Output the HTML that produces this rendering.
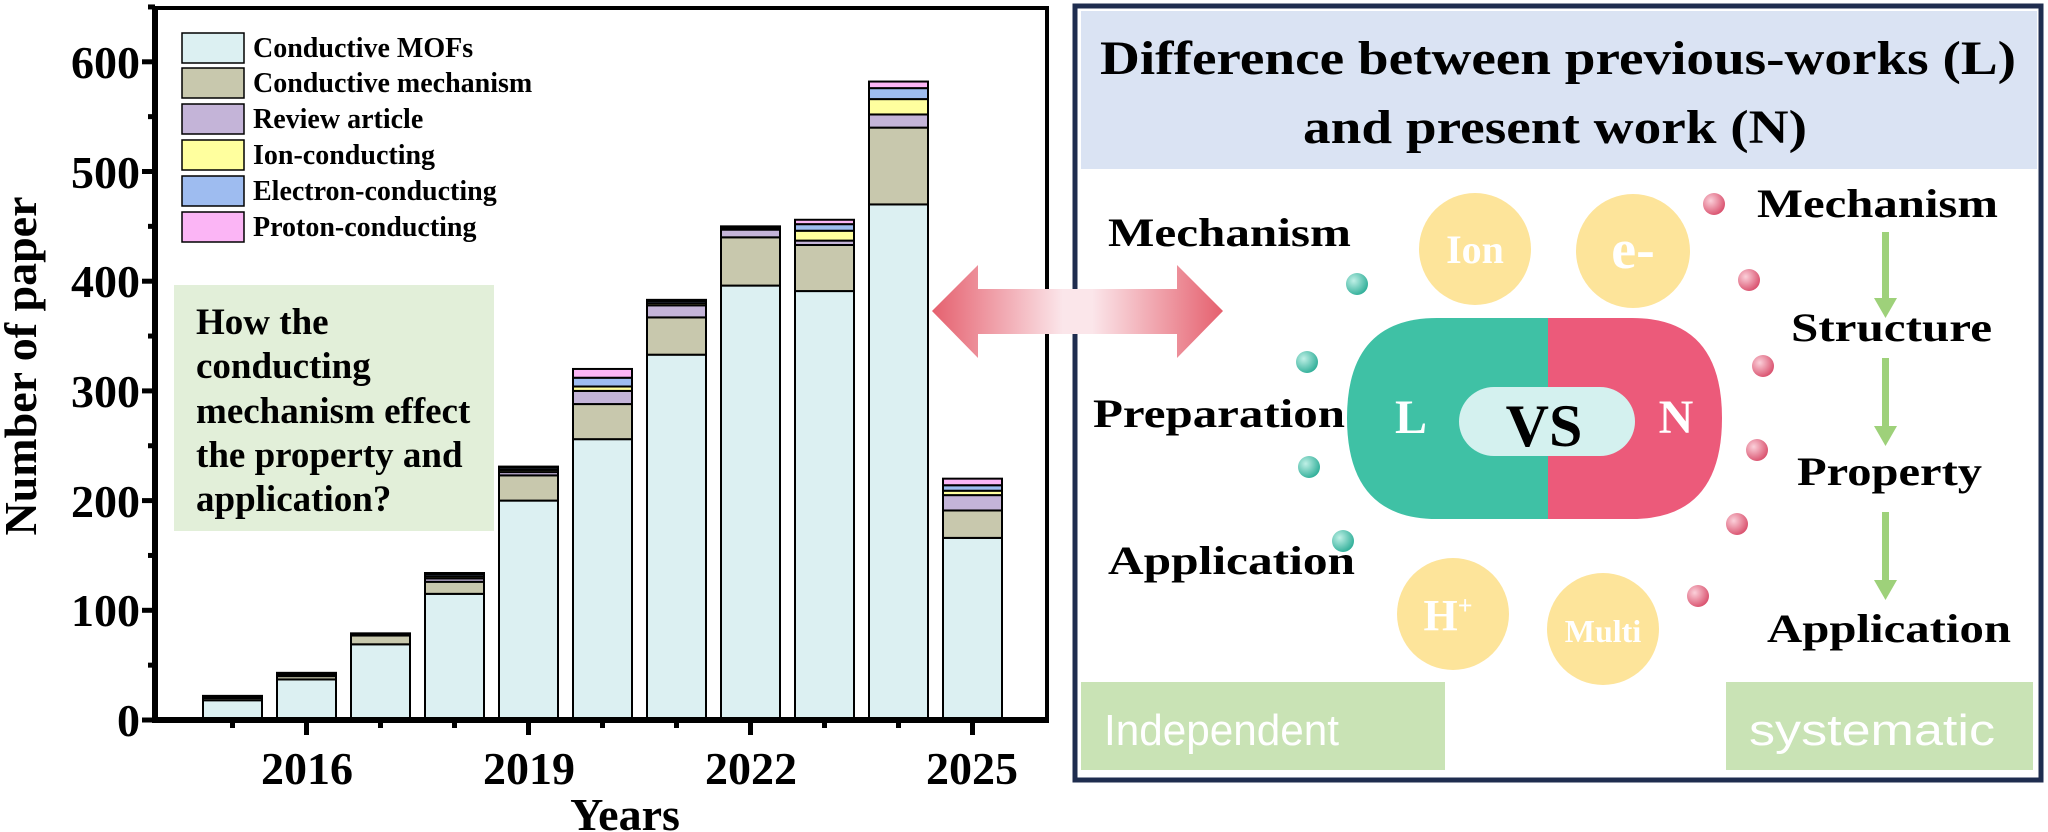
<!DOCTYPE html>
<html><head><meta charset="utf-8"><style>
html,body{margin:0;padding:0;background:#fff;}
svg{display:block;}
.s{font-family:"Liberation Serif",serif;font-weight:bold;}
</style></head><body>
<svg id="svg" width="2048" height="832" viewBox="0 0 2048 832" xmlns="http://www.w3.org/2000/svg">
<defs>
<linearGradient id="ag" x1="0" x2="1" y1="0" y2="0">
<stop offset="0" stop-color="#e5606e"/><stop offset="0.45" stop-color="#fbe6ea"/><stop offset="0.55" stop-color="#fbe6ea"/><stop offset="1" stop-color="#e5606e"/>
</linearGradient>
<radialGradient id="tg" cx="0.35" cy="0.35" r="0.7"><stop offset="0" stop-color="#bff0e6"/><stop offset="1" stop-color="#2fae98"/></radialGradient>
<radialGradient id="pg" cx="0.35" cy="0.35" r="0.7"><stop offset="0" stop-color="#fbd0da"/><stop offset="1" stop-color="#d9506d"/></radialGradient>
</defs>
<!-- chart -->
<g id="bars"></g>
<rect x="155" y="8" width="892" height="712" fill="none" stroke="#000" stroke-width="4"/>
<line x1="155" y1="6" x2="155" y2="723" stroke="#000" stroke-width="6"/>
<line x1="152" y1="720" x2="1049" y2="720" stroke="#000" stroke-width="6"/>
<g id="ticks" stroke="#000" stroke-width="5"></g>
<g class="s" font-size="46" text-anchor="end">
<text x="140" y="736">0</text><text x="140" y="626">100</text><text x="140" y="517">200</text><text x="140" y="407">300</text><text x="140" y="297">400</text><text x="140" y="188">500</text><text x="140" y="78">600</text>
</g>
<g class="s" font-size="46" text-anchor="middle">
<text x="307" y="784">2016</text><text x="529" y="784">2019</text><text x="751" y="784">2022</text><text x="972" y="784">2025</text>
<text x="625" y="830">Years</text>
<text transform="translate(36,366) rotate(-90)">Number of paper</text>
</g>
<!-- legend -->
<g class="s" stroke="#000" stroke-width="1.5">
<rect x="182" y="33" width="62" height="30" fill="#dcf0f2"/>
<rect x="182" y="68" width="62" height="30" fill="#c8c8ad"/>
<rect x="182" y="104" width="62" height="30" fill="#c4b4d8"/>
<rect x="182" y="140" width="62" height="30" fill="#ffff9e"/>
<rect x="182" y="176" width="62" height="30" fill="#9ebcf0"/>
<rect x="182" y="212" width="62" height="30" fill="#fbb5f5"/>
</g>
<g class="s" font-size="28">
<text x="253" y="57">Conductive MOFs</text>
<text x="253" y="92">Conductive mechanism</text>
<text x="253" y="128">Review article</text>
<text x="253" y="164">Ion-conducting</text>
<text x="253" y="200">Electron-conducting</text>
<text x="253" y="236">Proton-conducting</text>
</g>
<rect x="174" y="285" width="320" height="246" fill="#e2efd9"/>
<g class="s" font-size="37">
<text x="196" y="334">How the</text>
<text x="196" y="378">conducting</text>
<text x="196" y="423">mechanism effect</text>
<text x="196" y="467">the property and</text>
<text x="196" y="511">application?</text>
</g>
<!-- right panel -->
<rect x="1075" y="6" width="966" height="774" fill="#fff" stroke="#1f2d4f" stroke-width="5"/>
<rect x="1081" y="11" width="956" height="158" fill="#dae3f3"/>
<g class="s" font-size="48" text-anchor="middle">
<text x="1558" y="74" textLength="916" lengthAdjust="spacingAndGlyphs">Difference between previous-works (L)</text>
<text x="1555" y="143" textLength="504" lengthAdjust="spacingAndGlyphs">and present work (N)</text>
</g>
<!-- double arrow -->
<polygon points="932,311 978,265 978,289 1177,289 1177,265 1223,311 1177,358 1177,334 978,334 978,358" fill="url(#ag)"/>
<g class="s" font-size="40">
<text x="1108" y="246" textLength="243" lengthAdjust="spacingAndGlyphs">Mechanism</text>
<text x="1093" y="427" textLength="252" lengthAdjust="spacingAndGlyphs">Preparation</text>
<text x="1108" y="574" textLength="247" lengthAdjust="spacingAndGlyphs">Application</text>
<text x="1757" y="217" textLength="241" lengthAdjust="spacingAndGlyphs">Mechanism</text>
<text x="1791" y="341" textLength="201" lengthAdjust="spacingAndGlyphs">Structure</text>
<text x="1797" y="485" textLength="185" lengthAdjust="spacingAndGlyphs">Property</text>
<text x="1767" y="642" textLength="244" lengthAdjust="spacingAndGlyphs">Application</text>
</g>
<g fill="url(#tg)">
<circle cx="1357" cy="284" r="11"/><circle cx="1307" cy="362" r="11"/><circle cx="1309" cy="467" r="11"/><circle cx="1343" cy="541" r="11"/>
</g>
<g fill="url(#pg)">
<circle cx="1714" cy="204" r="11"/><circle cx="1749" cy="280" r="11"/><circle cx="1763" cy="366" r="11"/><circle cx="1757" cy="450" r="11"/><circle cx="1737" cy="524" r="11"/><circle cx="1698" cy="596" r="11"/>
</g>
<g fill="#fde49a">
<circle cx="1475" cy="249" r="56"/><circle cx="1633" cy="251" r="57"/><circle cx="1453" cy="614" r="56"/><circle cx="1603" cy="629" r="56"/>
</g>
<g class="s" fill="#fff" text-anchor="middle">
<text x="1475" y="263" font-size="40">Ion</text>
<text x="1633" y="268" font-size="56">e-</text>
<text x="1448" y="630" font-size="44">H<tspan font-size="26" dy="-16">+</tspan></text>
<text x="1603" y="642" font-size="32">Multi</text>
</g>
<!-- capsule -->
<path d="M1548,318 L1437,318 Q1347,318 1347,418 Q1347,519 1437,519 L1548,519 Z" fill="#3fc1a5"/>
<path d="M1548,318 L1632,318 Q1722,318 1722,418 Q1722,519 1632,519 L1548,519 Z" fill="#ec5a7a"/>
<rect x="1459" y="387" width="176" height="69" rx="35" fill="#d4f1ef"/>
<g class="s" text-anchor="middle">
<text x="1544" y="446" font-size="60" fill="#000">VS</text>
<text x="1411" y="433" font-size="48" fill="#fff">L</text>
<text x="1676" y="433" font-size="48" fill="#fff">N</text>
</g>
<!-- green arrows -->
<g fill="#9ed17a">
<rect x="1882" y="232" width="7" height="70"/><polygon points="1874,298 1897,298 1885.5,318"/>
<rect x="1882" y="358" width="7" height="70"/><polygon points="1874,426 1897,426 1885.5,446"/>
<rect x="1882" y="512" width="7" height="70"/><polygon points="1874,580 1897,580 1885.5,600"/>
</g>
<rect x="1081" y="682" width="364" height="88" fill="#c9e3b5"/>
<rect x="1726" y="682" width="307" height="88" fill="#c9e3b5"/>
<g font-family="'Liberation Sans',sans-serif" font-size="44" fill="#fff">
<text x="1104" y="745" textLength="235" lengthAdjust="spacingAndGlyphs">Independent</text>
<text x="1749" y="745" textLength="246" lengthAdjust="spacingAndGlyphs">systematic</text>
</g>
</svg>
<script>
var data=[[18,20,21,21,22,22],[37,40,41,42,43,43],[69,77,78,78,79,79],[115,126,129,131,133,134],[200,223,226,228,230,231],[256,288,300,304,312,320],[333,367,378,380,382,383],[396,440,447,448,449,450],[391,433,437,446,452,456],[470,540,552,566,576,582],[166,191,205,209,214,220]];
var cols=["#dcf0f2","#c8c8ad","#c4b4d8","#ffff9e","#9ebcf0","#fbb5f5"];
var ns="http://www.w3.org/2000/svg",g=document.getElementById("bars"),t=document.getElementById("ticks");
function Y(v){return 720-v*1.097;}
data.forEach(function(d,i){var x=203+74*i,prev=0;d.forEach(function(v,j){if(v>prev){var r=document.createElementNS(ns,"rect");r.setAttribute("x",x);r.setAttribute("y",Y(v));r.setAttribute("width",59);r.setAttribute("height",Y(prev)-Y(v));r.setAttribute("fill",cols[j]);r.setAttribute("stroke","#000");r.setAttribute("stroke-width","2");g.appendChild(r);}prev=v;});});
function L(a,b,c,d){var l=document.createElementNS(ns,"line");l.setAttribute("x1",a);l.setAttribute("y1",b);l.setAttribute("x2",c);l.setAttribute("y2",d);t.appendChild(l);}
for(var i=0;i<11;i++){var x=232.5+74*i;var major=(i%3==1);L(x,720,x,major?735:728);}
for(var v=0;v<=650;v+=50){var y=Y(v);L(155,y,v%100==0?142:148,y);}
</script>
</body></html>
